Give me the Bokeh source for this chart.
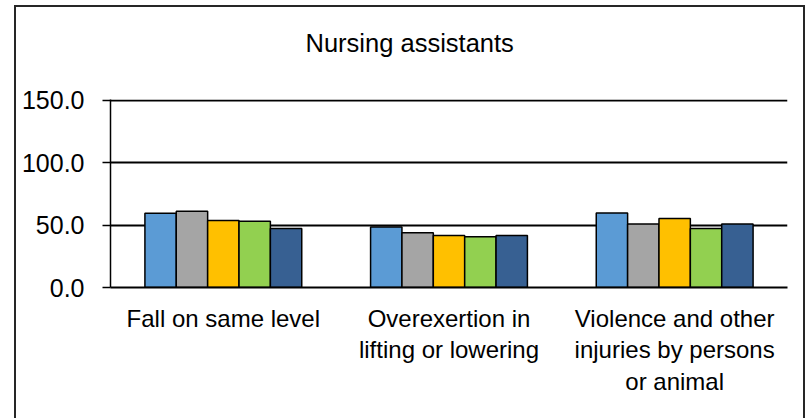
from bokeh.plotting import figure
from bokeh.models import (ColumnDataSource, FactorRange, Range1d, FixedTicker,
                          NumeralTickFormatter, Title, InlineStyleSheet)
from bokeh.transform import dodge
from bokeh.embed import file_html
from bokeh.resources import INLINE

# ---- data ----
categories = ["Fall on same level",
              "Overexertion in\nlifting or lowering",
              "Violence and other\ninjuries by persons\nor animal"]
series_names = ["Series 1", "Series 2", "Series 3", "Series 4", "Series 5"]
s1 = [59.5, 48.5, 59.8]
s2 = [61.1, 44.0, 51.0]
s3 = [53.7, 41.8, 55.3]
s4 = [53.2, 40.8, 47.4]
s5 = [47.4, 41.8, 51.0]
y_ticks = [0, 50, 100, 150]
title_text = "Nursing assistants"

colors = ["#5B9BD5", "#A5A5A5", "#FFC000", "#92D050", "#376092"]
FONT = "Liberation Sans"

source = ColumnDataSource(dict(cat=categories, s1=s1, s2=s2, s3=s3, s4=s4, s5=s5))

border_css = InlineStyleSheet(css="""
:host::after {
  content: "";
  position: absolute;
  left: 14px;
  top: 5px;
  width: 791px;
  height: 413px;
  box-sizing: border-box;
  border-left: 2px solid #262626;
  border-top: 2px solid #262626;
  border-right: 2px solid #262626;
  border-bottom: none;
  pointer-events: none;
}
""")

p = figure(x_range=FactorRange(factors=categories), y_range=Range1d(0, 150.8),
           width=805, height=418, output_backend="svg", toolbar_location=None,
           title=None, min_border_left=110, min_border_right=18,
           min_border_top=99, min_border_bottom=131,
           stylesheets=[border_css], styles={"position": "relative"})
p.outline_line_color = None
p.background_fill_color = "white"
p.border_fill_color = "white"

bw = 0.139
offsets = [-2 * bw, -bw, 0, bw, 2 * bw]
for key, off, col, nm in zip(["s1", "s2", "s3", "s4", "s5"], offsets, colors, series_names):
    p.vbar(x=dodge("cat", off, range=p.x_range), top=key, width=bw, source=source,
           fill_color=col, line_color="black", line_width=1.5, name=nm)

# y axis
p.yaxis.ticker = FixedTicker(ticks=y_ticks)
p.yaxis.formatter = NumeralTickFormatter(format="0.0")
p.yaxis.axis_line_color = "black"
p.yaxis.axis_line_width = 1.5
p.yaxis.major_tick_line_color = "black"
p.yaxis.major_tick_line_width = 1.5
p.yaxis.major_tick_out = 8
p.yaxis.major_tick_in = 0
p.yaxis.minor_tick_line_color = None
p.yaxis.major_label_standoff = 18
p.yaxis.major_label_text_font = FONT
p.yaxis.major_label_text_font_size = "25px"
p.yaxis.major_label_text_color = "black"

# x axis
p.xaxis.axis_line_color = "black"
p.xaxis.axis_line_width = 2
p.xaxis.major_tick_line_color = None
p.xaxis.minor_tick_line_color = None
p.xaxis.major_label_standoff = 11
p.xaxis.major_label_text_font = FONT
p.xaxis.major_label_text_font_size = "24px"
p.xaxis.major_label_text_color = "black"
p.xaxis.major_label_text_line_height = 1.18

# grid
p.xgrid.visible = False
p.ygrid.ticker = FixedTicker(ticks=y_ticks)
p.ygrid.grid_line_color = "black"
p.ygrid.grid_line_width = 2

# title (spacer + real title)
spacer = Title(text=" ", text_font_size="1px", standoff=40)
p.add_layout(spacer, "above")
t = Title(text=title_text, align="left", offset=195, vertical_align="bottom",
          standoff=0, text_font=FONT, text_font_size="25.5px",
          text_font_style="normal", text_color="black")
p.add_layout(t, "above")

open("out.html", "w").write(file_html(p, INLINE))
